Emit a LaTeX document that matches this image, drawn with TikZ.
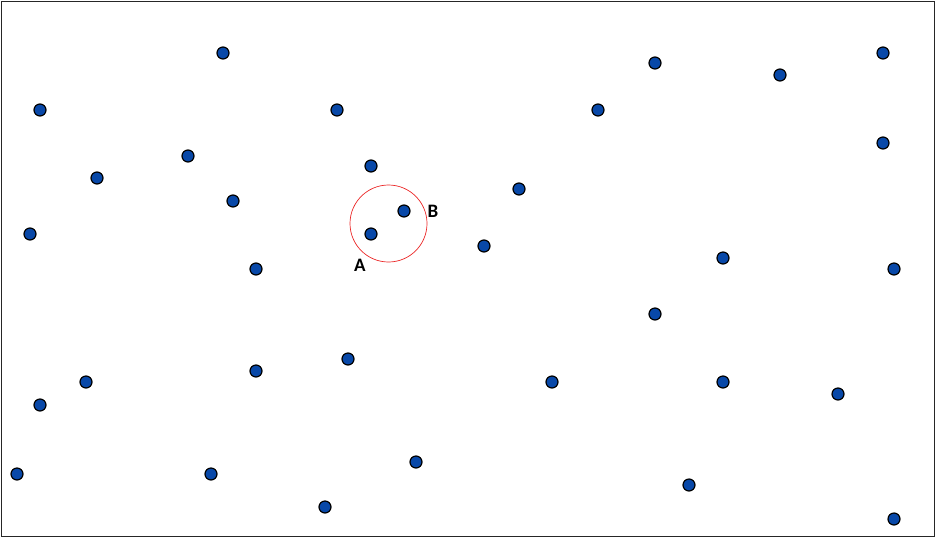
\documentclass[tikz,border=0pt]{standalone}
\usepackage{fontspec}
\setmainfont{Carlito}
\definecolor{dotblue}{RGB}{8,72,168}
\definecolor{ringred}{RGB}{235,40,40}
\begin{document}
\begin{tikzpicture}[x=1pt,y=-1pt,
  pt/.style={circle,draw=black,line width=1.2pt,fill=dotblue,minimum size=12pt,inner sep=0pt},
  lbl/.style={font=\bfseries\fontsize{19}{22}\selectfont,inner sep=0pt}]
\useasboundingbox (0,0) rectangle (937,539);
\draw[line width=1.3pt,black!85] (1.5,1.5) rectangle (934.5,536.5);
\foreach \x/\y [count=\i] in {223/53,40/110,337/110,188/156,97/178,371/166,233/201,30/234,256/269,519/189,484/246,598/110,655/63,780/75,883/53,883/143,723/258,894/269,655/314,348/359,256/371,86/382,40/405,552/382,723/382,838/394,17/474,211/474,416/462,325/507,689/485,894/519}
  \node[pt] (p\i) at (\x,\y) {};
\node[pt] (a) at (371,234) {};
\node[pt] (b) at (404,211) {};
\node[circle,draw=ringred,line width=0.7pt,minimum size=77pt,inner sep=0pt] (ring) at (388.5,223.5) {};
\node[lbl] (la) at (360,265) {A};
\node[lbl] (lb) at (433,211) {B};
\end{tikzpicture}
\end{document}
